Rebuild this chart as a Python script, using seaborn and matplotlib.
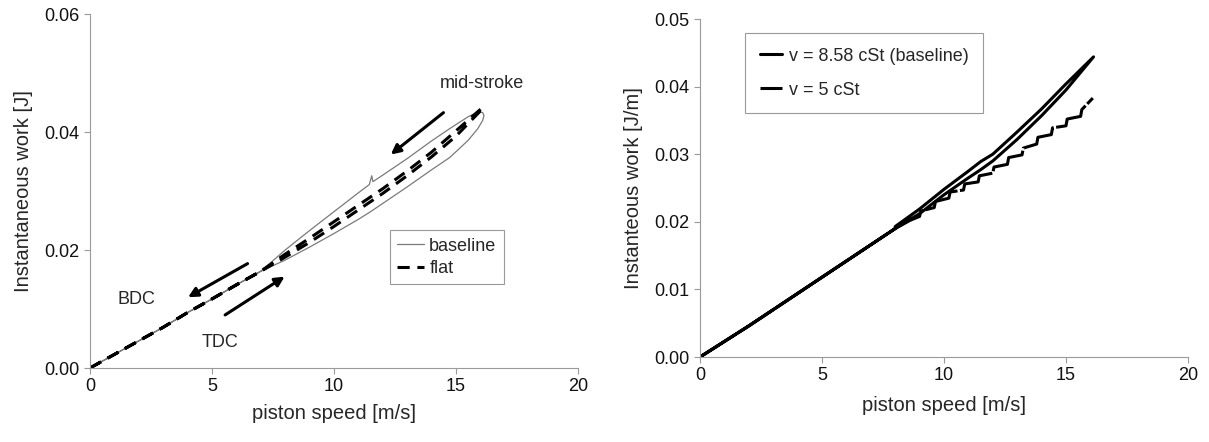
import numpy as np
import matplotlib
matplotlib.use("Agg")
import matplotlib.pyplot as plt
import seaborn as sns


###
### DATA
###

# left panel: common part of both curves (0 -> 7 m/s)
left_common_v = [0, 1, 2, 3, 4, 5, 6, 7]
left_common_w = [0, 0.0023, 0.0046, 0.0069, 0.0094, 0.0117, 0.0141, 0.0164]

# left panel, baseline loop: accelerating branch then returning branch
base_out_v = [8, 9, 10, 11, 11.5, 12, 13, 14, 14.75, 15.5, 15.9, 16.1, 16.15]
base_out_w = [0.0183, 0.0205, 0.0228, 0.0252, 0.0265, 0.0279, 0.0307, 0.0336, 0.0357, 0.0386, 0.0406, 0.0420, 0.0428]
base_back_v = [16.1, 15.95, 15.5, 14.75, 14, 13, 12, 11.6, 11.55, 11.45, 11, 10, 9, 8]
base_back_w = [0.0433, 0.0435, 0.0426, 0.0406, 0.0385, 0.0355, 0.0327, 0.0316, 0.0326, 0.0311, 0.0297, 0.0265, 0.0233, 0.0200]

# left panel, flat loop
flat_out_v = [8, 9, 10, 11, 12, 13, 14, 15, 16.1]
flat_out_w = [0.0188, 0.0213, 0.0240, 0.0268, 0.0296, 0.0326, 0.0358, 0.0393, 0.0440]
flat_back_v = [16.1, 15, 14, 13, 12, 11, 10, 9, 8]
flat_back_w = [0.0442, 0.0402, 0.0366, 0.0334, 0.0304, 0.0276, 0.0248, 0.0220, 0.0193]

# right panel: common part (0 -> 8 m/s)
right_common_v = [0, 1, 2, 3, 4, 5, 6, 7, 8]
right_common_w = [0, 0.0023, 0.0046, 0.0070, 0.0094, 0.0118, 0.0142, 0.0166, 0.0190]

# right panel, v = 8.58 cSt (baseline) loop
visc_out_v = [9, 10, 11, 11.5, 12, 13, 14, 15, 16.13]
visc_out_w = [0.0212, 0.0240, 0.0265, 0.0277, 0.0290, 0.0322, 0.0357, 0.0395, 0.0444]
visc_back_v = [16.13, 15, 14, 13, 12, 11.5, 11, 10, 9, 8]
visc_back_w = [0.0444, 0.0404, 0.0367, 0.0333, 0.0300, 0.0289, 0.0275, 0.0248, 0.0219, 0.0193]

# right panel, v = 5 cSt (stepped trace above 8.6 m/s)
thin_v = [8.6, 9.0, 9.05, 9.6, 9.65, 10.2, 10.25, 10.8, 10.85, 11.4, 11.45, 12.0, 12.05,
          12.6, 12.65, 13.2, 13.25, 13.8, 13.85, 14.4, 14.45, 15.0, 15.05, 15.6, 15.65, 16.1]
thin_w = [0.0202, 0.0208, 0.0216, 0.0221, 0.0230, 0.0235, 0.0244, 0.0247, 0.0256, 0.0259, 0.0268,
          0.0272, 0.0281, 0.0285, 0.0295, 0.0299, 0.0309, 0.0315, 0.0325, 0.0329, 0.0339, 0.0342,
          0.0352, 0.0356, 0.0366, 0.0383]

x_ticks = [0, 5, 10, 15, 20]
left_y_ticks = [0.00, 0.02, 0.04, 0.06]
right_y_ticks = [0.00, 0.01, 0.02, 0.03, 0.04, 0.05]


###
### STYLE
###

sns.set_style("ticks")
plt.rcParams['font.family'] = ['Liberation Sans', 'DejaVu Sans']
plt.rcParams['axes.edgecolor'] = '#9a9a9a'
plt.rcParams['xtick.color'] = '#9a9a9a'
plt.rcParams['ytick.color'] = '#9a9a9a'
plt.rcParams['xtick.labelcolor'] = '#111111'
plt.rcParams['ytick.labelcolor'] = '#111111'

TICK_FS = 13
LABEL_FS = 14.5
TEXT_FS = 13

fig = plt.figure(figsize=(12.09, 4.42), dpi=100)
ax1 = fig.add_axes([0.0744, 0.1674, 0.4036, 0.8006])
ax2 = fig.add_axes([0.579, 0.1923, 0.4036, 0.7647])


def loop(common_v, common_w, out_v, out_w, back_v, back_w):
    # out along the lower branch, back along the upper one
    v = common_v + out_v + back_v + common_v[::-1]
    w = common_w + out_w + back_w + common_w[::-1]
    return v, w


###
### LEFT PANEL
###

bv, bw = loop(left_common_v, left_common_w, base_out_v, base_out_w, base_back_v, base_back_w)
fv, fw = loop(left_common_v, left_common_w, flat_out_v, flat_out_w, flat_back_v, flat_back_w)

sns.lineplot(x=bv, y=bw, sort=False, estimator=None, color='#7a7a7a', lw=0.9,
             label='baseline', ax=ax1)
sns.lineplot(x=fv, y=fw, sort=False, estimator=None, color='black', lw=2.2,
             label='flat', ax=ax1)
ax1.lines[1].set_dashes((4, 2.5))

ax1.set_xlim(0, 20)
ax1.set_ylim(0, 0.06)
ax1.set_xticks(x_ticks)
ax1.set_yticks(left_y_ticks)
ax1.set_yticklabels(['%.2f' % t for t in left_y_ticks])
ax1.set_xlabel('piston speed [m/s]', fontsize=LABEL_FS, labelpad=6)
ax1.set_ylabel('Instantaneous work [J]', fontsize=LABEL_FS, labelpad=8)

arrow = dict(arrowstyle='-|>', lw=2.2, color='black', mutation_scale=14, shrinkA=0, shrinkB=0)
ax1.annotate('', xy=(12.33, 0.0362), xytext=(14.49, 0.0433), arrowprops=arrow)
ax1.annotate('', xy=(4.02, 0.0120), xytext=(6.46, 0.0177), arrowprops=arrow)
ax1.annotate('', xy=(7.98, 0.0155), xytext=(5.54, 0.0090), arrowprops=arrow)

ax1.text(16.06, 0.0483, 'mid-stroke', fontsize=TEXT_FS, ha='center', va='center')
ax1.text(1.9, 0.0116, 'BDC', fontsize=TEXT_FS, ha='center', va='center')
ax1.text(5.31, 0.0044, 'TDC', fontsize=TEXT_FS, ha='center', va='center')

leg1 = ax1.legend(loc='lower left', bbox_to_anchor=(0.614, 0.237), borderaxespad=0,
                  fontsize=TEXT_FS, handlelength=1.5, handletextpad=0.3, labelspacing=0.3,
                  borderpad=0.4, fancybox=False, framealpha=1)
leg1.get_frame().set_edgecolor('#9a9a9a')
leg1.get_frame().set_linewidth(0.8)

###
### RIGHT PANEL
###

rv, rw = loop(right_common_v, right_common_w, visc_out_v, visc_out_w, visc_back_v, visc_back_w)
tv = right_common_v + thin_v

sns.lineplot(x=rv, y=rw, sort=False, estimator=None, color='black', lw=2.2,
             label='v = 8.58 cSt (baseline)', ax=ax2)
sns.lineplot(x=tv, y=right_common_w + thin_w, sort=False, estimator=None, color='black',
             lw=2.2, label='v = 5 cSt', ax=ax2)
ax2.lines[1].set_dashes((14, 0.8))

ax2.set_xlim(0, 20)
ax2.set_ylim(0, 0.05)
ax2.set_xticks(x_ticks)
ax2.set_yticks(right_y_ticks)
ax2.set_yticklabels(['%.2f' % t for t in right_y_ticks])
ax2.set_xlabel('piston speed [m/s]', fontsize=LABEL_FS, labelpad=8)
ax2.set_ylabel('Instanteous work [J/m]', fontsize=LABEL_FS, labelpad=8)

leg2 = ax2.legend(loc='upper left', bbox_to_anchor=(0.093, 0.958), borderaxespad=0,
                  fontsize=TEXT_FS, handlelength=1.2, handletextpad=0.4, labelspacing=0.95,
                  borderpad=0.8, fancybox=False, framealpha=1)
leg2.get_frame().set_edgecolor('#9a9a9a')
leg2.get_frame().set_linewidth(0.8)

for ax in (ax1, ax2):
    sns.despine(ax=ax)
    ax.spines['left'].set_linewidth(0.8)
    ax.spines['bottom'].set_linewidth(0.8)
    ax.tick_params(axis='both', labelsize=TICK_FS, length=4, width=0.8, direction='out')

fig.savefig('out.png', dpi=100)
